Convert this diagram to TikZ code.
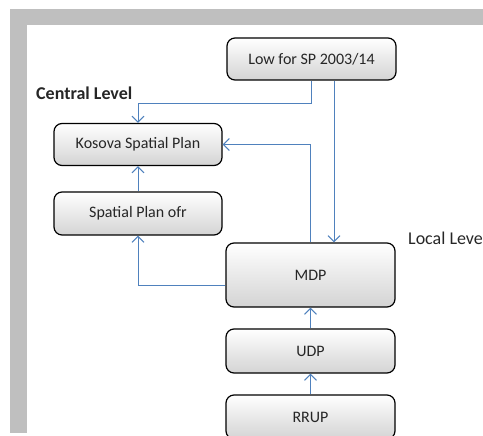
\documentclass[tikz,border=0pt]{standalone}
\usepackage{fontspec}
\setmainfont{Carlito}
\usetikzlibrary{arrows.meta}
\definecolor{linkblue}{RGB}{79,129,189}
\definecolor{framegray}{RGB}{191,191,191}
\begin{document}
\begin{tikzpicture}[x=1pt,y=-1pt,
	plan/.style={draw=black,line width=1.2pt,rounded corners=8pt,top color=white,bottom color=black!17,
		text=black!85,font=\fontsize{16}{18}\selectfont,minimum width=169pt,inner sep=0pt},
	link/.style={draw=linkblue,line width=1pt,-{Straight Barb[length=6pt,width=12pt]}},
	level/.style={anchor=west,text=black!85,inner sep=0pt,font=\fontsize{18}{20}\selectfont}]
	\useasboundingbox (0,0) rectangle (483,436);
	\clip (0,0) rectangle (483,436);
	% frame
	\fill[framegray] (10,9) rectangle (483,25);
	\fill[framegray] (10,9) rectangle (27,433);
	% boxes
	\node[plan,minimum height=42pt] (low) at (311.5,59) {Low for SP 2003/14};
	\node[plan,minimum width=168pt,minimum height=42pt] (ksp) at (138,144.5) {Kosova Spatial Plan};
	\node[plan,minimum width=168pt,minimum height=43pt] (spo) at (138,213.5) {Spatial Plan ofr};
	\node[plan,minimum height=64pt] (mdp) at (310.5,275) {MDP};
	\node[plan,minimum height=44pt] (udp) at (310.5,351) {UDP};
	\node[plan,minimum height=44pt] (rrup) at (310.5,417) {RRUP};
	% levels
	\node[level,font=\fontsize{18}{20}\selectfont\bfseries] (central) at (36,93) {Central Level};
	\node[level] (local) at (408,238) {Local Leve};
	% links
	\draw[link] (low.south) -- ++(0,23) -| (ksp.north);
	\draw[link] ([xshift=22.5pt]low.south) -- ([xshift=22.5pt]low.south |- mdp.north);
	\draw[link] (mdp.north) |- (ksp.east);
	\draw[link] (spo.north) -- (ksp.south);
	\draw[link] ([yshift=-10pt]mdp.west) -| (spo.south);
	\draw[link] (udp.north) -- (mdp.south);
	\draw[link] (rrup.north) -- (udp.south);
\end{tikzpicture}
\end{document}
